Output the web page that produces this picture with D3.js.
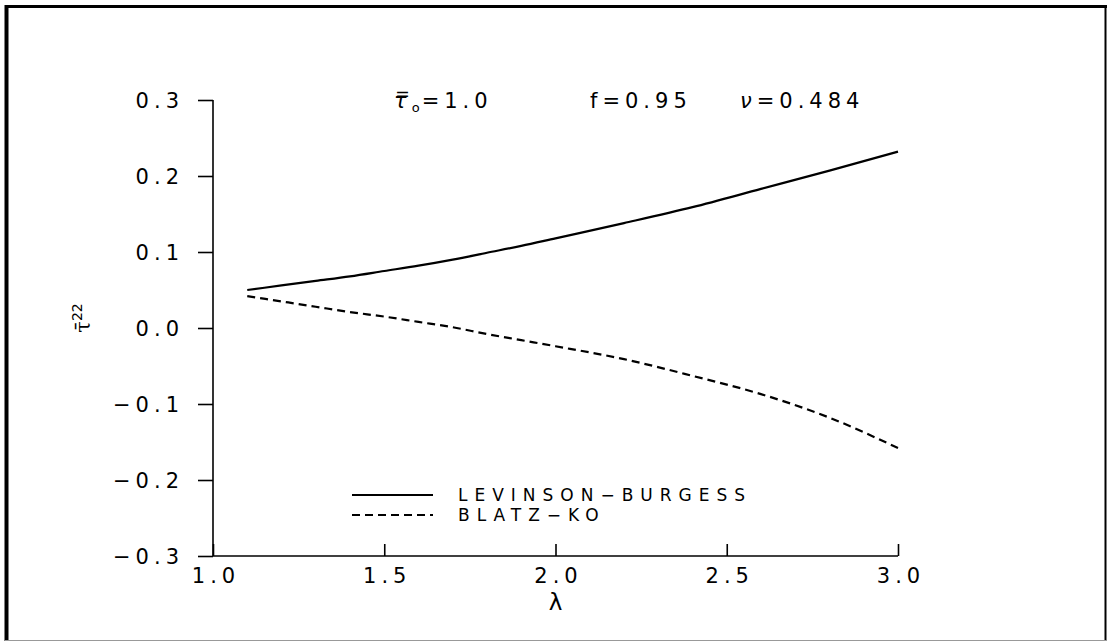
<!DOCTYPE html>
<html>
<head>
<meta charset="utf-8">
<script src="https://cdn.jsdelivr.net/npm/d3@7/dist/d3.min.js"></script>
<style>
  html, body { margin: 0; padding: 0; background: #fff; }
  svg text { font-family: "DejaVu Sans", "Liberation Sans", sans-serif; fill: #000; }
</style>
</head>
<body>
<svg id="chart" width="1108" height="642"></svg>
<script>
// Stretch ratio λ and normalised stress component for both material models
const lambda = [1.1, 1.2, 1.3, 1.4, 1.5, 1.6, 1.7, 1.8, 1.9, 2.0, 2.2, 2.4, 2.6, 2.8, 3.0];
const levinsonBurgess = [0.050, 0.056, 0.062, 0.068, 0.075, 0.082, 0.090, 0.099, 0.108, 0.118, 0.138, 0.159, 0.183, 0.207, 0.232];
const blatzKo = [0.042, 0.035, 0.028, 0.021, 0.015, 0.008, 0.001, -0.008, -0.016, -0.024, -0.041, -0.063, -0.087, -0.118, -0.158];

const xTicks = [1.0, 1.5, 2.0, 2.5, 3.0];
const yTicks = [-0.3, -0.2, -0.1, 0.0, 0.1, 0.2, 0.3];
const seriesNames = ["LEVINSON\u2212BURGESS", "BLATZ\u2212KO"];

const svg = d3.select("#chart");
const FS = 21; // plotter-style lettering size
const LS = 5;  // and its wide letter spacing

// outer frame
svg.append("rect").attr("x", 0).attr("y", 0).attr("width", 1108).attr("height", 642).attr("fill", "#fff");
svg.append("line").attr("x1", 6.5).attr("x2", 6.5).attr("y1", 5).attr("y2", 641).attr("stroke", "#000").attr("stroke-width", 4);
svg.append("line").attr("x1", 5).attr("x2", 1107).attr("y1", 6.5).attr("y2", 6.5).attr("stroke", "#000").attr("stroke-width", 3);
svg.append("line").attr("x1", 1105.5).attr("x2", 1105.5).attr("y1", 5).attr("y2", 641).attr("stroke", "#000").attr("stroke-width", 2);
svg.append("line").attr("x1", 5).attr("x2", 1107).attr("y1", 640.5).attr("y2", 640.5).attr("stroke", "#999").attr("stroke-width", 1);

const x = d3.scaleLinear().domain([1.0, 3.0]).range([213, 898]);
const y = d3.scaleLinear().domain([-0.3, 0.3]).range([556, 100]);

const fmt = d3.format(".1f");
const fmtSigned = v => (v < 0 ? "\u2212" : "") + fmt(Math.abs(v));

// y axis with ticks on the left
const yAxis = d3.axisLeft(y).tickValues(yTicks).tickSize(15).tickPadding(14).tickFormat(fmtSigned);
const gy = svg.append("g").attr("transform", `translate(${x(1.0)},0)`).call(yAxis);
gy.select(".domain").attr("stroke", "#000").attr("stroke-width", 1.6).attr("d", `M0,${y(0.3)}V${y(-0.3)}`);
gy.selectAll(".tick line").attr("stroke", "#000").attr("stroke-width", 1.6);
gy.selectAll(".tick text").attr("font-size", FS).attr("letter-spacing", LS).attr("dy", "0.36em");

// x axis with ticks pointing up into the plot
const xAxis = d3.axisTop(x).tickValues(xTicks).tickSize(12).tickFormat(fmt);
const gx = svg.append("g").attr("transform", `translate(0,${y(-0.3)})`).call(xAxis);
gx.select(".domain").attr("stroke", "#000").attr("stroke-width", 1.6).attr("d", `M${x(1.0)},0H${x(3.0)}`);
gx.selectAll(".tick line").attr("stroke", "#000").attr("stroke-width", 1.6);
gx.selectAll(".tick text").attr("font-size", FS).attr("letter-spacing", LS)
  .attr("x", LS / 2).attr("y", 27).attr("dy", 0);

// axis titles
svg.append("text").attr("x", x(2.0)).attr("y", 610).attr("text-anchor", "middle")
  .attr("font-size", 23).text("\u03bb");
const yt = svg.append("text").attr("transform", "translate(90,318) rotate(-90)")
  .attr("text-anchor", "middle").attr("font-size", 21);
yt.append("tspan").attr("font-family", "DejaVu Serif").text("\u03c4\u0304");
yt.append("tspan").attr("font-size", 14).attr("dy", -8).text("22");

// parameter annotation
const ann = svg.append("text").attr("y", 108).attr("font-size", FS).attr("letter-spacing", LS);
ann.append("tspan").attr("x", 394).attr("font-style", "italic").text("\u03c4\u033f");
ann.append("tspan").attr("font-size", 13).attr("dy", 4).attr("letter-spacing", 2).text("o");
ann.append("tspan").attr("dy", -4).text("=1.0");
ann.append("tspan").attr("x", 590).text("f=0.95");
ann.append("tspan").attr("x", 740).attr("font-style", "italic").text("\u03bd");
ann.append("tspan").text("=0.484");

// curves
const line = d3.line().x(d => x(d[0])).y(d => y(d[1])).curve(d3.curveMonotoneX);
svg.append("path").datum(lambda.map((l, i) => [l, levinsonBurgess[i]]))
  .attr("d", line).attr("fill", "none").attr("stroke", "#000").attr("stroke-width", 2.2);
svg.append("path").datum(lambda.map((l, i) => [l, blatzKo[i]]))
  .attr("d", line).attr("fill", "none").attr("stroke", "#000").attr("stroke-width", 2.2)
  .attr("stroke-dasharray", "8,5");

// legend
const legend = svg.append("g");
const dashes = [null, "8,5"];
seriesNames.forEach((name, i) => {
  const ly = 495 + i * 20;
  legend.append("line").attr("x1", 352).attr("x2", 433).attr("y1", ly).attr("y2", ly)
    .attr("stroke", "#000").attr("stroke-width", 1.8).attr("stroke-dasharray", dashes[i]);
  legend.append("text").attr("x", 458).attr("y", ly + 6).attr("font-size", 17)
    .attr("letter-spacing", 7).text(name);
});
</script>
</body>
</html>
